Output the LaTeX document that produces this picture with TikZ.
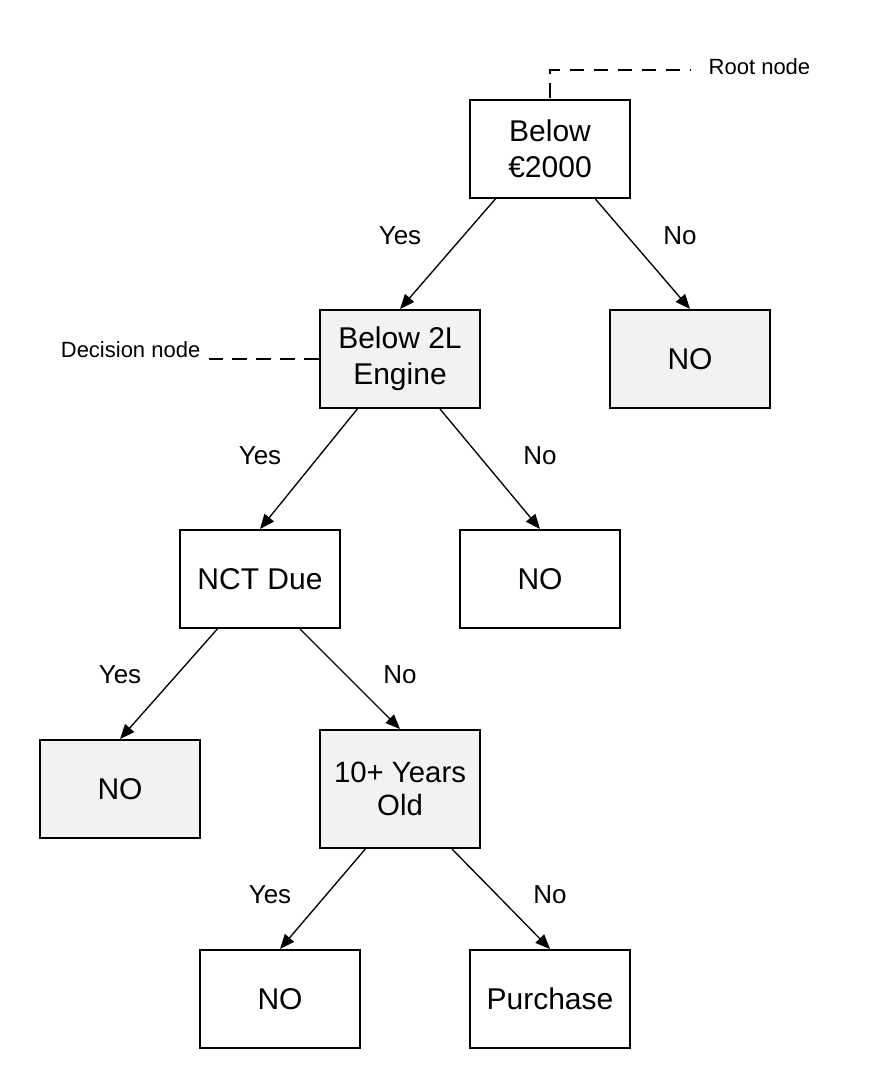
\documentclass[tikz,border=0pt]{standalone}
\usepackage{fontspec}
\setmainfont{Liberation Sans}
\usetikzlibrary{arrows.meta,positioning}
\definecolor{boxgrey}{HTML}{F2F2F2}

\begin{document}
\begin{tikzpicture}[x=0.75pt,y=-0.75pt,>={Triangle[length=11pt,width=9pt]},
  box/.style={draw,line width=1.5pt,minimum width=120pt,minimum height=73.5pt,
    align=center,inner sep=0pt,font=\fontsize{22.5}{27}\selectfont},
  shaded/.style={box,fill=boxgrey},
  lbl/.style={font=\fontsize{19.5}{23}\selectfont},
  note/.style={font=\fontsize{16.5}{20}\selectfont},
  link/.style={->,line width=1pt},
  pointer/.style={line width=1.5pt,dash pattern=on 11pt off 7pt}]
\useasboundingbox (0,0) rectangle (870,1088);

% --- Tree nodes ---
\node[box]    (root)   at (550,149) {Below\\€2000};
\node[shaded] (engine) at (400,359) {Below 2L\\Engine};
\node[shaded] (noA)    at (690,359) {NO};
\node[box]    (nct)    at (260,579) {NCT Due};
\node[box]    (noB)    at (540,579) {NO};
\node[shaded] (noC)    at (120,789) {NO};
\node[shaded,minimum height=88.5pt,font=\fontsize{22}{25}\selectfont] (old) at (400,789) {10+ Years\\Old};
\node[box]    (noD)    at (280,999) {NO};
\node[box]    (buy)    at (550,999) {Purchase};

% --- Branches ---
\draw[link] ([xshift=-41pt]root.south)   -- (engine.north);
\draw[link] ([xshift=34pt]root.south)    -- (noA.north);
\draw[link] ([xshift=-32pt]engine.south) -- (nct.north);
\draw[link] ([xshift=30pt]engine.south)  -- (noB.north);
\draw[link] ([xshift=-32pt]nct.south)    -- (noC.north);
\draw[link] ([xshift=30pt]nct.south)     -- (old.north);
\draw[link] ([xshift=-26pt]old.south)    -- (noD.north);
\draw[link] ([xshift=39pt]old.south)     -- (buy.north);

% --- Branch labels ---
\foreach \t/\x/\y in {Yes/400/236, No/680/236, Yes/260/456, No/540/456,
    Yes/120/675, No/400/675, Yes/270/895, No/550/895}
  \node[lbl] at (\x,\y) {\t};

% --- Annotations ---
\node[note,anchor=west] (rootnote) at (704,67) {Root node};
\node[note,anchor=east] (decnote)  at (205,350) {Decision node};
\draw[pointer] ([yshift=0.75pt]root.north) |- ([xshift=-10pt,yshift=-2pt]rootnote.west);
\draw[pointer] (engine.west) -- ([xshift=3pt]decnote.east |- engine.west);
\end{tikzpicture}
\end{document}
